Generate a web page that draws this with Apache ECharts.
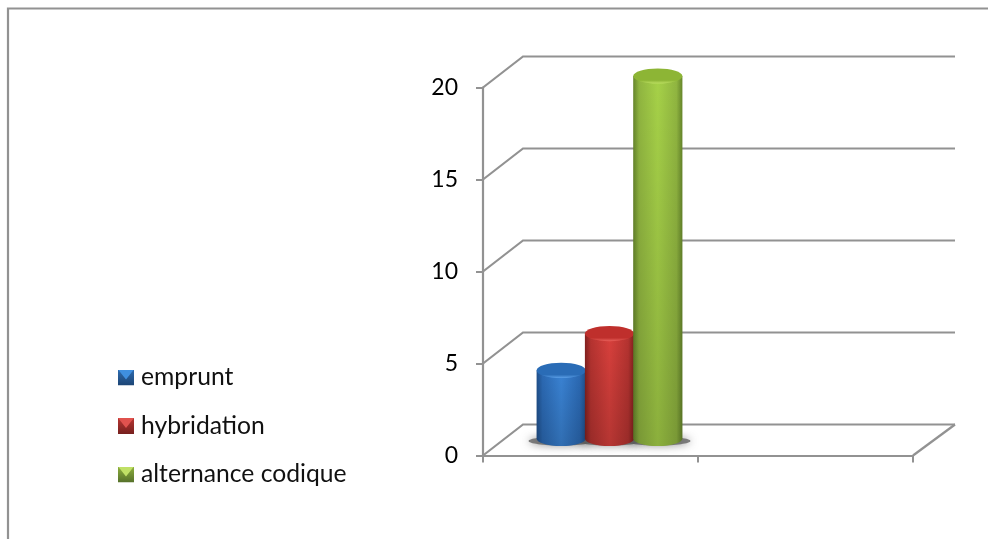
<!DOCTYPE html>
<html>
<head>
<meta charset="utf-8">
<style>html,body{margin:0;padding:0;background:#fff}#c{width:988px;height:539px}</style>
<script src="https://cdn.jsdelivr.net/npm/echarts@6/dist/echarts.min.js"></script>
</head>
<body>
<div id="c"></div>
<script>
var categories = ['', ''];
var yTicks = [0, 5, 10, 15, 20];
var emprunt = [4];
var hybridation = [6];
var alternance = [20];
var seriesNames = ['emprunt', 'hybridation', 'alternance codique'];

var LINE = '#929292';
var palettes = [
  {edge:'#1f4f8a', mid:'#3a83d4', low:'#2b69b3', cap:'#2a6cb6', capHi:'#5a9ee6', top:'#3f8fe0', side:'#2f6cb0', bot:'#1c4474'},
  {edge:'#82201e', mid:'#d8403c', low:'#b53330', cap:'#bf2f2c', capHi:'#e8605a', top:'#e0524e', side:'#b83633', bot:'#76201e'},
  {edge:'#66862b', mid:'#a6d148', low:'#90b540', cap:'#8db535', capHi:'#bde062', top:'#c0e066', side:'#8fb13e', bot:'#55702a'}
];
function bevelIcon(p){
  var svg = "<svg xmlns='http://www.w3.org/2000/svg' width='16' height='16'>" +
    "<defs><linearGradient id='g' x1='0' y1='0' x2='0' y2='1'><stop offset='0' stop-color='"+p.side+"'/><stop offset='1' stop-color='"+p.bot+"'/></linearGradient></defs>" +
    "<rect width='16' height='16' fill='url(#g)'/>" +
    "<polygon points='0,0 16,0 13.5,3 8,10 2.5,3' fill='"+p.top+"'/></svg>";
  return 'image://data:image/svg+xml;charset=utf-8,' + encodeURIComponent(svg);
}
var DX = 40, DY = -31, DXR = 42;
var RX = 24.6, RY = 7.6;

function barCenter(idx, api){
  return api.coord([0,0])[0] + 19 + (idx-1)*48.3;
}
function wallItem(params, api){
  var cs = params.coordSys;
  var y = api.coord([0, api.value(0)])[1];
  var x0 = cs.x, x1 = cs.x + cs.width;
  var children = [{
    type:'polyline', silent:true,
    shape:{points:[[x0,y],[x0+DX,y+DY],[x1+DXR,y+DY]]},
    style:{stroke:LINE,fill:null,lineWidth:2.2}
  }];
  if (api.value(0) === 0) {
    children.push({
      type:'polyline', silent:true,
      shape:{points:[[x1,y],[x1+DXR,y+DY]]},
      style:{stroke:LINE,fill:null,lineWidth:2.2}
    });
  }
  return {type:'group',children:children};
}
function shadowItem(params, api){
  var cx = barCenter(api.value(0), api);
  var base = api.coord([0,0])[1] - 17;
  return {type:'ellipse',silent:true,
    shape:{cx:cx,cy:base+2.5,rx:RX+8,ry:4.5},
    style:{fill:'rgba(90,90,90,0.75)',shadowBlur:9,shadowColor:'rgba(80,80,80,0.85)'}};
}
function cylinder(idx){
  return function(params, api){
    var p = palettes[idx];
    var cx = barCenter(idx, api);
    var base = api.coord([0,0])[1] - 17;
    var top = api.coord([0,api.value(1)])[1] - 11.5;
    var rx = RX, ry = RY;
    var k = 0.5523;
    var h = base - top;
    var d = 'M0 0 L0 '+h+' C0 '+(h+ry*k)+' '+(rx*(1-k))+' '+(h+ry)+' '+rx+' '+(h+ry)+
            ' C'+(rx*(1+k))+' '+(h+ry)+' '+(2*rx)+' '+(h+ry*k)+' '+(2*rx)+' '+h+' L'+(2*rx)+' 0 Z';
    var bodyGrad = {type:'linear',x:0,y:0,x2:1,y2:0,colorStops:[
      {offset:0,color:p.edge},{offset:0.12,color:p.low},{offset:0.5,color:p.mid},{offset:0.88,color:p.low},{offset:1,color:p.edge}]};
    var capGrad = {type:'linear',x:0,y:0,x2:0,y2:1,colorStops:[
      {offset:0,color:p.cap},{offset:0.78,color:p.cap},{offset:1,color:p.capHi}]};
    var shade = {type:'linear',x:0,y:0,x2:0,y2:1,colorStops:[
      {offset:0,color:'rgba(0,0,0,0)'},{offset:1,color:'rgba(0,0,0,0.16)'}]};
    var rect = {x:cx-rx,y:top,width:2*rx,height:h+ry};
    function bodyPath(fill){
      return {type:'path',silent:true,
        shape:{pathData:d,layout:'cover',x:rect.x,y:rect.y,width:rect.width,height:rect.height},
        style:{fill:fill}};
    }
    return {type:'group',children:[
      bodyPath(bodyGrad),
      bodyPath(shade),
      {type:'ellipse',silent:true,shape:{cx:cx,cy:top,rx:rx,ry:ry},style:{fill:capGrad}}
    ]};
  };
}
var valueSets = [emprunt, hybridation, alternance];
var series = [{
  type:'custom', name:'walls', coordinateSystem:'cartesian2d', silent:true, clip:false, z:1,
  encode:{y:0}, data:yTicks.map(function(v){return [v];}), renderItem:wallItem
},{
  type:'custom', name:'shadows', coordinateSystem:'cartesian2d', silent:true, clip:false, z:2,
  encode:{x:0}, data:valueSets.map(function(v,i){return [i];}), renderItem:shadowItem
}];
valueSets.forEach(function(vals, i){
  series.push({
    type:'custom', name:seriesNames[i], coordinateSystem:'cartesian2d', silent:true, clip:false, z:3+i,
    itemStyle:{color:palettes[i].mid},
    encode:{x:0,y:1},
    data:vals.map(function(v,k){return [k,v];}),
    renderItem:cylinder(i)
  });
});
var chart = echarts.init(document.getElementById('c'), null, {renderer:'canvas'});
chart.setOption({
  animation:false,
  backgroundColor:'#fff',
  textStyle:{fontFamily:'Lato'},
  grid:{left:483,right:75,top:87.5,bottom:83.5,containLabel:false},
  xAxis:{type:'category',data:categories,boundaryGap:true,
    axisLine:{lineStyle:{color:LINE,width:2.2}},
    axisTick:{show:true,alignWithLabel:false,interval:0,length:7,lineStyle:{color:LINE,width:2}},
    axisLabel:{show:false},splitLine:{show:false}},
  yAxis:{type:'value',min:0,max:20,interval:5,
    axisLine:{show:true,lineStyle:{color:LINE,width:2.2}},
    axisTick:{show:true,length:7,lineStyle:{color:LINE,width:2}},
    axisLabel:{fontFamily:'Lato',fontSize:23,color:'#000',margin:25,padding:[4,0,0,0]},
    splitLine:{show:false}},
  legend:{orient:'vertical',left:118,top:364,padding:0,itemWidth:16,itemHeight:16,itemGap:21.5,
    selectedMode:false,
    textStyle:{fontFamily:'Lato',fontSize:24.7,color:'#111',padding:[0,0,0,2],lineHeight:27},
    data:seriesNames.map(function(n,i){return {name:n,icon:bevelIcon(palettes[i])};})},
  graphic:[{type:'polyline',silent:true,z:0,
    shape:{points:[[8,539],[8,8.5],[988,8.5]]},
    style:{stroke:LINE,fill:null,lineWidth:2.2}}],
  series:series
});
</script>
</body>
</html>
